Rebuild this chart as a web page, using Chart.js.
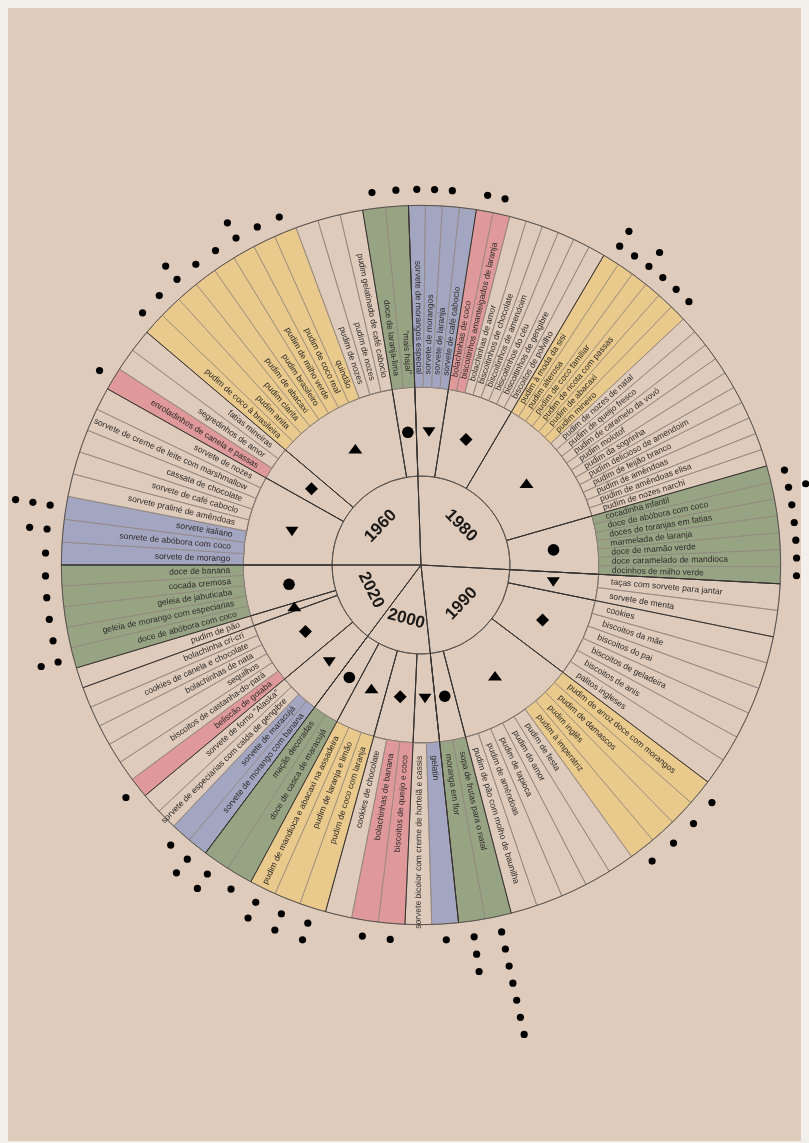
<!DOCTYPE html>
<html>
<head>
<meta charset="utf-8">
<script src="https://cdn.jsdelivr.net/npm/chart.js@4.4.1/dist/chart.umd.min.js"></script>
<style>
  html, body { margin: 0; padding: 0; background: #f3efeb; }
  #wrap { position: relative; width: 809px; height: 1143px; }
</style>
</head>
<body>
<div id="wrap"><canvas id="mychart"></canvas></div>
<script>
// decades, clockwise from 9 o'clock; angular span of each decade (degrees)
const decades = ['1960', '1980', '1990', '2000', '2020'];
const decadeSpan = [88, 95, 81, 42.8, 53.2];

// categories inside every decade, always in this order: sorvetes, biscoitos, pudins, doces
const categories = ['sorvetes', 'biscoitos', 'pudins', 'doces'];
const groupCounts = [
  [8, 3, 11, 2],
  [4, 8, 16, 7],
  [2, 6, 9, 2],
  [2, 3, 3, 2],
  [4, 6, 1, 5]
];

const recipes1960 = [
  'sorvete de morango', 'sorvete de abóbora com coco', 'sorvete italiano', 'sorvete praliné de amêndoas',
  'sorvete de café caboclo', 'cassata de chocolate', 'sorvete de creme de leite com marshmallow', 'sorvete de nozes',
  'enroladinhos de canela e passas', 'segredinhos de amor', 'fatias mineiras',
  'pudim de coco à brasileira', 'pudim anita', 'pudim clarita', 'pudim de abacaxi', 'pudim brasileiro',
  'pudim de milho verde', 'pudim de coco real', 'quindão', 'pudim de nozes', 'pudim de nozes',
  'pudim gelatinado de café caboclo',
  'doce de laranja-lima', '"mais hajal"'
];
const recipes1980 = [
  'sorvete de morangos especial', 'sorvete de morangos', 'sorvete de laranja', 'sorvete de café caboclo',
  'bolachinhas de coco', 'biscoitinhos amanteigados de laranja', 'bolachinhas de amor', 'biscoitinhos de chocolate',
  'biscoitinhos de amendoim', 'biscoitinhos do céu', 'biscoitinhos de gengibre', 'biscoitos de polvilho',
  'pudim à moda da sisi', 'pudim alterosa', 'pudim de coco familiar', 'pudim de ricota com passas',
  'pudim de abacaxi', 'pudim mineiro', 'pudim de nozes de natal', 'pudim de queijo fresco',
  'pudim de caramelo da vovó', 'pudim molotof', 'pudim da sogrinha', 'pudim delicioso de amendoim',
  'pudim de feijão branco', 'pudim de amêndoas', 'pudim de amêndoas elisa', 'pudim de nozes narchi',
  'cocadinha infantil', 'doce de abóbora com coco', 'doces de toranjas em fatias', 'marmelada de laranja',
  'doce de mamão verde', 'doce caramelado de mandioca', 'docinhos de milho verde'
];
const recipes1990 = [
  'taças com sorvete para jantar', 'sorvete de menta',
  'cookies', 'biscoitos da mãe', 'biscoitos do pai', 'biscoitos de geladeira', 'biscoitos de anis', 'palitos ingleses',
  'pudim de arroz doce com morangos', 'pudim de damascos', 'pudim inglês', 'pudim à imperatriz', 'pudim de festa',
  'pudim do amor', 'pudim de tapioca', 'pudim de amêndoas', 'pudim de pão com molho de baunilha',
  'sopa de frutas para o natal', 'moranga em flor'
];
const recipes2000 = [
  'gelatin', 'sorvete bicolor com creme de hortelã e cassis',
  'biscoitos de queijo e coco', 'bolachinhas de banana', 'cookies de chocolate',
  'pudim de coco com laranja', 'pudim de laranja e limão', 'pudim de mandioca e abacaxi na assadeira',
  'doce de casca de maracujá', 'maçãs decoradas'
];
const recipes2020 = [
  'sorvete de morango com banana', 'sorvete de maracujá', 'sorvete de especiarias com calda de gengibre',
  'sorvete de forno "Alaska"',
  'beliscão de goiaba', 'biscoitos de castanha-do-pará', 'sequilhos', 'bolachinhas de nata',
  'cookies de canela e chocolate', 'bolachinha cri-cri',
  'pudim de pão',
  'doce de abóbora com coco', 'geleia de morango com especiarias', 'geleia de jabuticaba', 'cocada cremosa',
  'doce de banana'
];

// 1 = coloured slice
const highlight1960 = [1,1,1,0,0,0,0,0, 1,0,0, 1,1,1,1,1,1,1,1,0,0,0, 1,1];
const highlight1980 = [1,1,1,1, 1,1,0,0,0,0,0,0, 1,1,1,1,1,1,0,0,0,0,0,0,0,0,0,0, 1,1,1,1,1,1,1];
const highlight1990 = [0,0, 0,0,0,0,0,0, 1,1,1,1,0,0,0,0,0, 1,1];
const highlight2000 = [1,0, 1,1,0, 1,1,1, 1,1];
const highlight2020 = [1,1,0,0, 1,0,0,0,0,0, 0, 1,1,1,1,1];

// number of dots outside each slice
const dots1960 = [1,2,3,0,0,0,0,0, 1,0,0, 1,1,2,1,1,2,1,1,0,0,0, 1,1];
const dots1980 = [1,1,1,0, 1,1,0,0,0,0,0,0, 2,1,2,1,1,1,0,0,0,0,0,0,0,0,0,0, 1,2,1,1,1,1,1];
const dots1990 = [0,0, 0,0,0,0,0,0, 1,1,1,1,0,0,0,0,0, 7,3];
const dots2000 = [1,0, 1,1,0, 2,2,2, 1,2];
const dots2020 = [2,1,0,0, 1,0,0,0,0,0, 0, 2,1,1,1,1];

const catColors = ['#a3a6c1', '#df999b', '#e9ca8c', '#97a484'];

const recipesByDecade = [recipes1960, recipes1980, recipes1990, recipes2000, recipes2020];
const highlightByDecade = [highlight1960, highlight1980, highlight1990, highlight2000, highlight2020];
const dotsByDecade = [dots1960, dots1980, dots1990, dots2000, dots2020];

const names = [], spans = [], fills = [], dots = [];
recipesByDecade.forEach((list, d) => {
  let cat = 0, left = groupCounts[d][0];
  list.forEach((name, i) => {
    while (left === 0) { cat++; left = groupCounts[d][cat]; }
    left--;
    names.push(name);
    spans.push(decadeSpan[d] / list.length);
    fills.push(highlightByDecade[d][i] ? catColors[cat] : 'rgba(0,0,0,0)');
    dots.push(dotsByDecade[d][i]);
  });
});

const groupSpans = [], groupCats = [];
groupCounts.forEach((g, d) => g.forEach((n, c) => {
  groupSpans.push(decadeSpan[d] * n / recipesByDecade[d].length);
  groupCats.push(c);
}));

const bgPlugin = {
  id: 'bg',
  beforeDraw(chart) {
    const c = chart.ctx;
    c.save();
    c.fillStyle = '#f3efeb';
    c.fillRect(0, 0, chart.width, chart.height);
    c.fillStyle = '#dfcbbb';
    c.fillRect(8, 8, chart.width - 16, chart.height - 10);
    c.restore();
  }
};

function drawSymbol(c, cat, x, y) {
  c.beginPath();
  if (cat === 0) {        // triangle down
    c.moveTo(x - 6.5, y - 4.5); c.lineTo(x + 6.5, y - 4.5); c.lineTo(x, y + 5);
  } else if (cat === 1) { // diamond
    c.moveTo(x, y - 6.5); c.lineTo(x + 6.5, y); c.lineTo(x, y + 6.5); c.lineTo(x - 6.5, y);
  } else if (cat === 2) { // triangle up
    c.moveTo(x - 7, y + 4.5); c.lineTo(x + 7, y + 4.5); c.lineTo(x, y - 5);
  } else {                // circle
    c.arc(x, y, 5.8, 0, Math.PI * 2);
  }
  c.closePath();
  c.fill();
}

const decoPlugin = {
  id: 'deco',
  afterDatasetsDraw(chart) {
    const c = chart.ctx;
    const outer = chart.getDatasetMeta(0).data;
    const mid = chart.getDatasetMeta(1).data;
    const inner = chart.getDatasetMeta(2).data;
    const R = outer[0].outerRadius;
    const cx = outer[0].x, cy = outer[0].y;

    c.save();
    // outer circle
    c.strokeStyle = '#5b5551';
    c.lineWidth = 1;
    c.beginPath(); c.arc(cx, cy, R, 0, Math.PI * 2); c.stroke();

    // category separators and decade separators
    c.strokeStyle = '#35312e';
    c.lineWidth = 1;
    mid.forEach(arc => {
      const a = arc.startAngle, r0 = arc.innerRadius;
      c.beginPath();
      c.moveTo(cx + Math.cos(a) * r0, cy + Math.sin(a) * r0);
      c.lineTo(cx + Math.cos(a) * R, cy + Math.sin(a) * R);
      c.stroke();
    });
    inner.forEach(arc => {
      const a = arc.startAngle;
      c.beginPath();
      c.moveTo(cx, cy);
      c.lineTo(cx + Math.cos(a) * R, cy + Math.sin(a) * R);
      c.stroke();
    });

    // recipe labels
    c.font = '8.5px "Liberation Sans", Arial, sans-serif';
    c.fillStyle = '#2e2a28';
    c.textBaseline = 'middle';
    outer.forEach((arc, i) => {
      const a = (arc.startAngle + arc.endAngle) / 2;
      const r = arc.innerRadius + 13;
      c.save();
      c.translate(cx, cy);
      if (Math.cos(a) >= 0) {
        c.rotate(a); c.textAlign = 'left'; c.fillText(names[i], r, 0);
      } else {
        c.rotate(a + Math.PI); c.textAlign = 'right'; c.fillText(names[i], -r, 0);
      }
      c.restore();
    });

    // dots
    c.fillStyle = '#000';
    outer.forEach((arc, i) => {
      const a = (arc.startAngle + arc.endAngle) / 2;
      for (let k = 0; k < dots[i]; k++) {
        const r = R + 16 + 17.5 * k;
        c.beginPath();
        c.arc(cx + Math.cos(a) * r, cy + Math.sin(a) * r, 3.6, 0, Math.PI * 2);
        c.fill();
      }
    });

    // category symbols
    mid.forEach((arc, j) => {
      const a = (arc.startAngle + arc.endAngle) / 2;
      const r = (arc.innerRadius + arc.outerRadius) / 2;
      drawSymbol(c, groupCats[j], cx + Math.cos(a) * r, cy + Math.sin(a) * r);
    });

    // decade labels
    c.font = 'bold 17px "Liberation Sans", Arial, sans-serif';
    c.fillStyle = '#1b1918';
    c.textAlign = 'center';
    inner.forEach((arc, d) => {
      const a = (arc.startAngle + arc.endAngle) / 2;
      const r = arc.outerRadius * 0.63;
      c.save();
      c.translate(cx + Math.cos(a) * r, cy + Math.sin(a) * r);
      c.rotate(Math.sin(a) < 0 ? a + Math.PI / 2 : a - Math.PI / 2);
      c.fillText(decades[d], 0, 0);
      c.restore();
    });
    c.restore();
  }
};

const ctx = document.getElementById('mychart').getContext('2d');
new Chart(ctx, {
  type: 'doughnut',
  data: {
    labels: names,
    datasets: [
      { data: spans, backgroundColor: fills, borderColor: '#8e837b', borderWidth: 0.7, weight: 182 },
      { data: groupSpans, backgroundColor: 'rgba(0,0,0,0)', borderColor: '#5b5551', borderWidth: 1, weight: 89 },
      { data: decadeSpan, backgroundColor: 'rgba(0,0,0,0)', borderColor: '#5b5551', borderWidth: 1, weight: 89 }
    ]
  },
  options: {
    responsive: true,
    maintainAspectRatio: false,
    animation: false,
    cutout: 0,
    rotation: 270,
    layout: { padding: { left: 61, right: 28, top: 205, bottom: 218 } },
    plugins: { legend: { display: false }, tooltip: { enabled: false } }
  },
  plugins: [bgPlugin, decoPlugin]
});
</script>
</body>
</html>
